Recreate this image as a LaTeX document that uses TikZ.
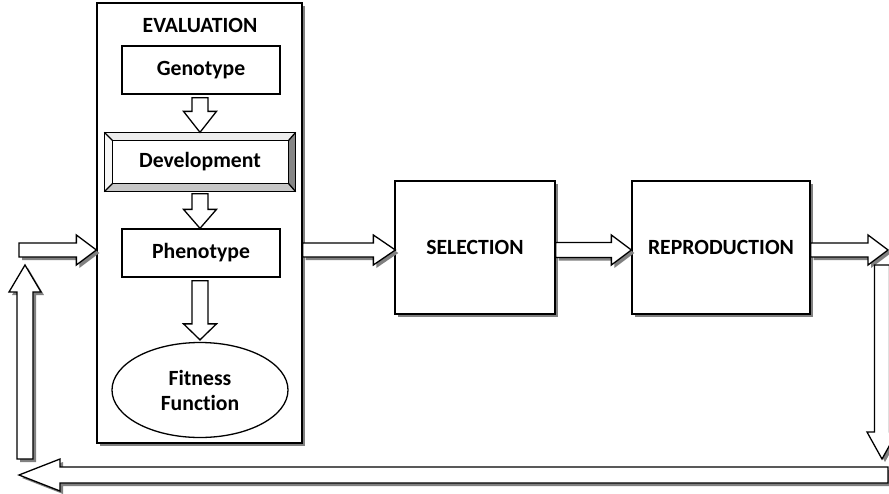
\documentclass[tikz,border=0pt]{standalone}
\usepackage{fontspec}
\setmainfont{Carlito}[Ligatures=NoCommon]
\usetikzlibrary{calc,shapes.geometric,shadows}

% Block (hollow) arrow from #2 to #3: half shaft width #4, half head width #5, head length #6
\newcommand\blockarrow[6][]{%
  \path[blk,#1] let \p1=#2, \p2=#3,
      \n1={atan2(\y2-\y1,\x2-\x1)},
      \n2={veclen(\x2-\x1,\y2-\y1)} in
    [shift={(\p1)}, rotate=\n1]
    (0pt,{-#4pt}) -- ({(\n2-#6)*1pt},{-#4pt}) -- ({(\n2-#6)*1pt},{-#5pt})
    -- ({\n2*1pt},0pt) -- ({(\n2-#6)*1pt},{#5pt}) -- ({(\n2-#6)*1pt},{#4pt})
    -- (0pt,{#4pt}) -- cycle;}

\tikzset{
  shade/.style={drop shadow={shadow xshift=3pt, shadow yshift=-3pt, opacity=1, fill=black!50}},
  blk/.style={draw=black, fill=white, line join=miter},
  box/.style={draw=black, fill=white, rectangle, inner sep=0pt},
  oval/.style={draw=black, fill=white, ellipse, inner sep=0pt, align=center},
}

\begin{document}
\begin{tikzpicture}[x=1pt, y=-1pt, line width=1.3pt,
    font=\fontsize{21.7}{25}\selectfont\bfseries]
  \useasboundingbox (0,0) rectangle (889,493);
  \clip (0,0) rectangle (889,493);

  % evaluation stage and its inner steps
  \node[box, shade, minimum width=205pt, minimum height=440pt] (eval) at (199.5,223) {};
  \node (evtitle) at (200,25) {EVALUATION};
  \node[box, minimum width=158pt, minimum height=48pt] (geno) at (201,70) {Genotype};
  \node[box, minimum width=190pt, minimum height=58pt] (dev) at (200,162) {};
  \node[box, minimum width=158pt, minimum height=48pt] (pheno) at (201,253) {Phenotype};
  \node[oval, minimum width=176pt, minimum height=95pt] (fit) at (200,390) {Fitness\\Function};

  % bevelled frame of the development box
  \coordinate (i1) at ($(dev.north west)+(8,8)$);
  \coordinate (i2) at ($(dev.north east)+(-7,8)$);
  \coordinate (i3) at ($(dev.south east)+(-7,-8)$);
  \coordinate (i4) at ($(dev.south west)+(8,-8)$);
  \fill[black!7] (dev.north west) -- (dev.north east) -- (i2) -- (i1) -- cycle;
  \fill[black!3] (dev.north west) -- (i1) -- (i4) -- (dev.south west) -- cycle;
  \fill[black!48] (dev.north east) -- (dev.south east) -- (i3) -- (i2) -- cycle;
  \fill[black!22] (dev.south west) -- (i4) -- (i3) -- (dev.south east) -- cycle;
  \draw (dev.north west) rectangle (dev.south east);
  \draw (i1) rectangle (i3);
  \draw (dev.north west) -- (i1) (dev.north east) -- (i2)
        (dev.south east) -- (i3) (dev.south west) -- (i4);
  \node (devtext) at (dev.center) {Development};

  % selection and reproduction stages
  \node[box, shade, minimum width=160pt, minimum height=133pt] (sel) at (475,247.5) {SELECTION};
  \node[box, shade, minimum width=178pt, minimum height=133pt] (rep) at (721,247.5) {REPRODUCTION};

  % loop end points
  \coordinate (inL) at (19,250);
  \coordinate (outR) at (888,250);
  \coordinate (downTop) at (882,265);
  \coordinate (downBot) at (882,459);
  \coordinate (botR) at (888,475);
  \coordinate (botL) at (19,475);
  \coordinate (upBot) at (25,459);
  \coordinate (upTop) at (25,265);

  % arrows inside the evaluation stage
  \blockarrow{($(geno.south)+(-1,3)$)}{(dev.north)}{8}{16.5}{21}
  \blockarrow{($(dev.south)+(0,2)$)}{($(pheno.north)+(-1,0)$)}{8}{16.5}{19}
  \blockarrow{($(pheno.south)+(-1,3)$)}{($(fit.north)+(0,-2)$)}{8}{16.5}{16}

  % arrows between the stages and the loop back
  \blockarrow[shade]{(inL)}{(eval.west |- inL)}{7}{15}{20}
  \blockarrow[shade]{(eval.east |- inL)}{($(sel.west |- inL)+(1,0)$)}{7}{15}{22}
  \blockarrow[shade]{($(sel.east |- inL)$)}{(rep.west |- inL)}{7.5}{15}{20}
  \blockarrow[shade]{(rep.east |- outR)}{(outR)}{7}{15}{20}
  \blockarrow[shade]{(downTop)}{(downBot)}{7.5}{15}{27}
  \blockarrow[shade]{(botR)}{(botL)}{8}{16}{41}
  \blockarrow[shade]{(upBot)}{(upTop)}{8}{16}{27}
\end{tikzpicture}
\end{document}
